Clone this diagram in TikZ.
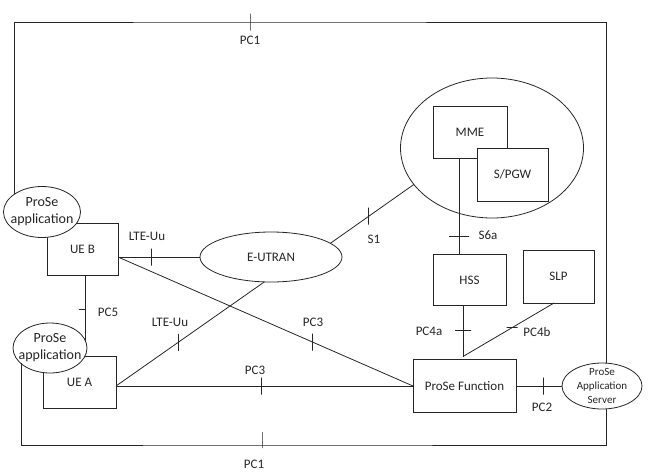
\documentclass[tikz,border=0pt]{standalone}
\usepackage{fontspec}
\setmainfont{Carlito}
\usetikzlibrary{shapes.geometric}
\begin{document}
\begin{tikzpicture}[x=1pt, y=-1pt, font=\fontsize{13}{15}\selectfont, line width=0.8pt, color=black!85,
	box/.style={draw, rectangle, inner sep=0pt, outer sep=0pt},
	oval/.style={draw, ellipse, inner sep=0pt, outer sep=0pt, fill=white},
	apptext/.style={align=center, inner sep=0pt, font=\fontsize{14}{17}\selectfont},
	vtick/.style={draw, inner sep=0pt, outer sep=0pt, minimum width=0pt, minimum height=17pt},
	htick/.style={draw, inner sep=0pt, outer sep=0pt, minimum height=0pt, minimum width=16pt}]
	\useasboundingbox (0,0) rectangle (661,472);
	\node[oval, minimum width=183, minimum height=140] (core) at (492,148) {};
	\node[box, minimum width=74, minimum height=52] (mme) at (470,132) {MME};
	\node[box, fill=white, minimum width=71, minimum height=53] (spgw) at (512.5,174.5) {S/PGW};
	\node[box, minimum width=73, minimum height=51] (hss) at (469.5,280) {HSS};
	\node[box, minimum width=71, minimum height=53] (slp) at (558.5,276.5) {SLP};
	\node[box, minimum width=103, minimum height=53] (pf) at (464.5,386) {ProSe Function};
	\node[oval, minimum width=80, minimum height=46] (as) at (602,386) {};
	\node[apptext, font=\fontsize{11}{14}\selectfont] (ast) at (as) {ProSe\\Application\\Server};
	\node[oval, minimum width=142, minimum height=50] (eutran) at (271,257) {E-UTRAN};
	\node[box, minimum width=71, minimum height=52] (ueb) at (82.5,249) {UE B};
	\node[oval, minimum width=77, minimum height=51] (appb) at (42,212) {};
	\node[apptext] (appbt) at (appb) {ProSe\\application};
	\node[box, minimum width=73, minimum height=52] (uea) at (79.5,382) {UE A};
	\node[oval, minimum width=74, minimum height=50] (appa) at (50,348) {};
	\node[apptext] (appat) at (appa) {ProSe\\application};
	\coordinate (ubo) at (ueb.east |- eutran.west);
	\coordinate (uao) at (uea.east |- pf.west);
	\coordinate (pc4m) at ([shift={(-1.5,-3)}]pf.north);
	\coordinate (pc1t) at (250,22);
	\coordinate (pc1b) at (262,445);
	\draw (appb.147) |- (pc1t) -| (as.80);
	\node[vtick] (t11) at (pc1t) {};
	\draw (appa.208) |- (pc1b) -| (as.280);
	\node[vtick, minimum height=16pt, anchor=south, yshift=-3pt] (t12) at (pc1b) {};
	\draw (ubo) -- node[vtick, pos=0.41] (t1) {} (eutran.west);
	\draw (ubo) -- node[vtick, pos=0.66] (t2) {} (pf.west);
	\draw (appa.10) |- node[htick, pos=0.24, anchor=east, minimum width=7pt] (t3) {} (ueb.south);
	\draw (uao) -- node[vtick, pos=0.42] (t4) {} (eutran.255);
	\draw (uao) -- node[vtick, pos=0.49] (t5) {} (pf.west);
	\draw (eutran.13) -- node[vtick, pos=0.46] (t6) {} (core.205);
	\draw ([xshift=-11pt]mme.south) -- node[htick, pos=0.81, minimum width=20pt] (t7) {} ([xshift=-10.5pt]hss.north);
	\draw ([xshift=-6.5pt]hss.south) -- node[htick, pos=0.48] (t8) {} (pc4m);
	\draw ([xshift=-4.5pt]slp.south) -- node[htick, pos=0.46, minimum width=11pt] (t9) {} (pc4m);
	\draw (pf.east) -- node[vtick, pos=0.59] (t10) {} (as.west);
	\node (l1) at (250,40) {PC1};
	\node (l2) at (147,236) {LTE-Uu};
	\node (l3) at (313,322) {PC3};
	\node (l4) at (108,312) {PC5};
	\node (l5) at (170,322) {LTE-Uu};
	\node (l6) at (255,370) {PC3};
	\node (l7) at (254,464) {PC1};
	\node (l8) at (374,239) {S1};
	\node (l9) at (488,235) {S6a};
	\node (l10) at (429,331) {PC4a};
	\node (l11) at (537,332) {PC4b};
	\node (l12) at (542,407) {PC2};
\end{tikzpicture}
\end{document}
